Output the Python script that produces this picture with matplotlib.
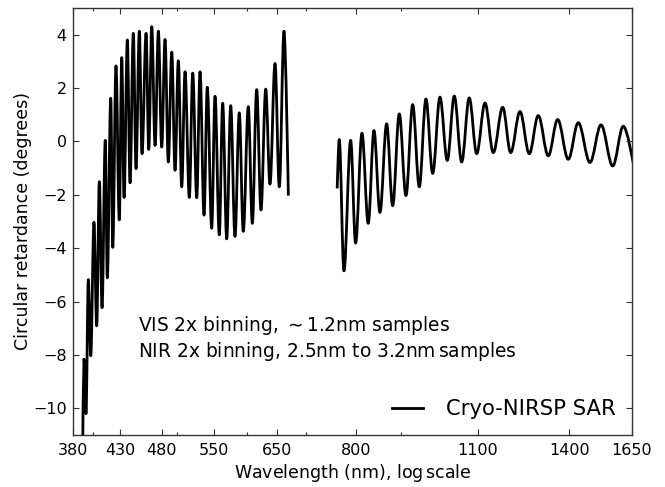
import numpy as np
import matplotlib
matplotlib.use("Agg")
import matplotlib.pyplot as plt
from matplotlib.path import Path
from matplotlib.patches import PathPatch
from matplotlib.lines import Line2D
from matplotlib.ticker import FixedLocator, FixedFormatter, NullFormatter

# ---- data: turning points of the measured retardance trace (nm, degrees) ----
vis_wavelength = [389.8, 391.1, 393.2, 395.6, 398.1, 401.5, 404.4, 407.2, 410.1, 413.6,
                  415.8, 419.6, 421.8, 425.4, 429.1, 431.9, 434.5, 438.3, 441.4, 445.2,
                  448.4, 452.3, 455.5, 460.4, 463.6, 467.3, 471.4, 475.5, 479.7, 483.9,
                  488.1, 492.5, 496.8, 501.1, 505.6, 510.0, 515.8, 520.4, 525.9, 530.5,
                  536.1, 540.7, 547.0, 551.8, 558.0, 563.0, 569.0, 575.0, 581.5, 588.1,
                  594.3, 602.2, 608.6, 615.6, 622.6, 630.4, 637.5, 646.0, 653.3, 661.4,
                  669.0]
vis_retardance = [-11.5, -8.16, -10.20, -5.18, -8.03, -3.03, -6.91, -1.51, -6.23, 0.04,
                  -5.11, 1.62, -3.97, 2.83, -2.94, 3.14, -2.10, 3.80, -1.55, 4.05,
                  -1.02, 4.13, -0.46, 4.05, -0.30, 4.30, -0.15, 4.13, -0.21, 3.82,
                  -0.77, 3.35, -1.08, 3.02, -1.70, 2.61, -2.10, 2.56, -2.11, 2.61,
                  -2.76, 2.03, -3.25, 1.69, -3.50, 1.43, -3.65, 1.34, -3.56, 1.07,
                  -3.37, 1.30, -3.07, 1.94, -2.57, 1.96, -1.60, 2.92, -1.70, 4.13,
                  -2.03]

nir_wavelength = [760.6, 764.7, 774.2, 787.9, 798.3, 811.7, 825.2, 837.7, 851.0, 866.1,
                  879.9, 895.3, 911.2, 927.4, 943.6, 960.3, 977.4, 996.3, 1015.6, 1034.5,
                  1054.8, 1076.0, 1097.2, 1121.4, 1146.2, 1174.8, 1199.7, 1229.4, 1259.7, 1289.8,
                  1324.2, 1357.3, 1395.6, 1432.8, 1477.5, 1520.9, 1568.4, 1612.7, 1655.0]
nir_retardance = [-1.76, 0.07, -4.85, 0.04, -3.81, 0.31, -3.07, 0.41, -2.66, 0.66,
                  -2.41, 1.03, -2.03, 1.38, -1.70, 1.59, -1.20, 1.66, -0.71, 1.70,
                  -0.77, 1.63, -0.46, 1.44, -0.42, 1.28, -0.42, 1.12, -0.46, 0.97,
                  -0.54, 0.82, -0.67, 0.70, -0.79, 0.62, -0.92, 0.57, -0.80]

x_ticks = [380, 430, 480, 550, 650, 800, 1100, 1400, 1650]
x_tick_labels = ["380", "430", "480", "550", "650", "800", "1100", "1400", "1650"]
y_ticks = [-10, -8, -6, -4, -2, 0, 2, 4]

series_label = "Cryo-NIRSP SAR"
note_vis = r"VIS 2x binning, $\sim$1.2nm samples"
note_nir = r"NIR 2x binning, 2.5nm to 3.2nm$\,$samples"


def smooth_path(xs, ys, k=0.36):
    """Path through the turning points; Bezier handles keep tangents flat at extrema."""
    lx = np.log10(np.asarray(xs, float))
    ys = np.asarray(ys, float)
    verts = [(xs[0], ys[0])]
    codes = [Path.MOVETO]
    n = len(xs)
    for i in range(n - 1):
        dx = lx[i + 1] - lx[i]
        if i == 0:
            c1 = (xs[i], ys[i])
        else:
            c1 = (10 ** (lx[i] + k * dx), ys[i])
        if i == n - 2:
            c2 = (xs[i + 1], ys[i + 1])
        else:
            c2 = (10 ** (lx[i + 1] - k * dx), ys[i + 1])
        verts += [c1, c2, (xs[i + 1], ys[i + 1])]
        codes += [Path.CURVE4] * 3
    return Path(verts, codes)


fig = plt.figure(figsize=(6.65, 4.87), dpi=100)
ax = fig.add_axes([0.1098, 0.1068, 0.8406, 0.8768])
ax.set_xscale("log")

for xs, ys in [(vis_wavelength, vis_retardance), (nir_wavelength, nir_retardance)]:
    patch = PathPatch(smooth_path(xs, ys), facecolor="none", edgecolor="black",
                      linewidth=2.0, joinstyle="round", capstyle="butt")
    ax.add_patch(patch)

ax.set_xlim(380, 1650)
ax.set_ylim(-11, 5)

ax.xaxis.set_major_locator(FixedLocator(x_ticks))
ax.xaxis.set_major_formatter(FixedFormatter(x_tick_labels))
ax.xaxis.set_minor_formatter(NullFormatter())
ax.set_yticks(y_ticks)
ax.set_yticklabels([("\u2212" + str(-v)) if v < 0 else str(v) for v in y_ticks])

ax.tick_params(which="both", direction="in", top=True, right=True, labelsize=11.5,
               width=0.8, color="#333333")
ax.tick_params(which="major", length=4)
ax.tick_params(which="minor", length=2)
ax.tick_params(axis="x", which="major", pad=5.8)
ax.tick_params(axis="y", which="major", pad=4.5)
for s in ax.spines.values():
    s.set_linewidth(1.0)
    s.set_color("#333333")

ax.set_xlabel(r"Wavelength (nm), log$\,$scale", fontsize=12.5, labelpad=3)
ax.set_ylabel("Circular retardance (degrees)", fontsize=12.5, labelpad=0.8)

ax.text(0.116, 0.244, note_vis, transform=ax.transAxes, fontsize=13.4,
        ha="left", va="baseline")
ax.text(0.116, 0.183, note_nir, transform=ax.transAxes, fontsize=13.4,
        ha="left", va="baseline")

ax.legend([Line2D([0], [0], color="black", lw=2.0)], [series_label],
          loc="lower right", frameon=False, fontsize=15.2, handlelength=1.5,
          handletextpad=1.1, borderaxespad=0.35)

fig.savefig("out.png", dpi=100)
